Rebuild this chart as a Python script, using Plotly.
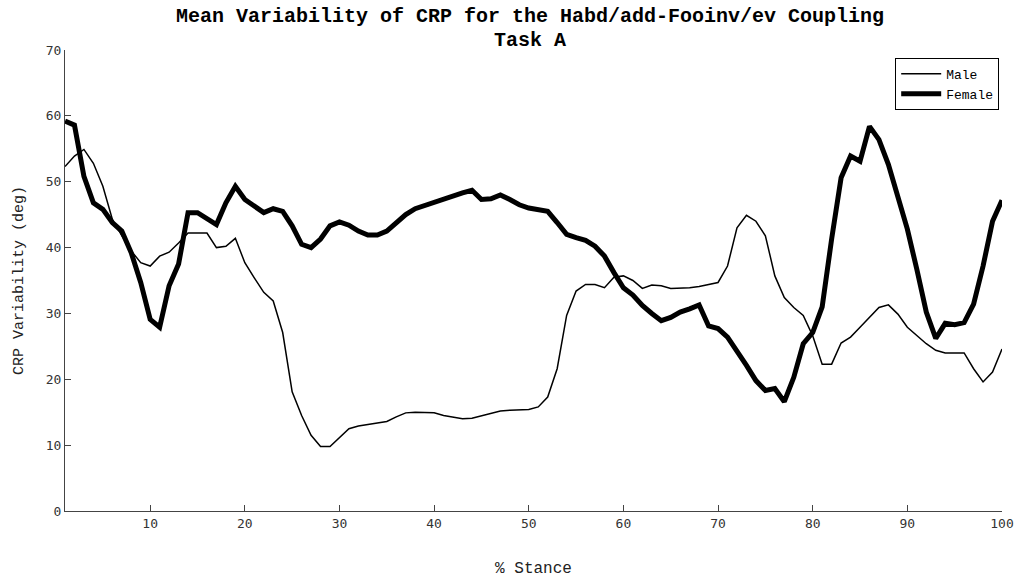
import plotly.graph_objects as go

# % of stance phase (1..100)
stance = list(range(1, 101))

# Mean CRP variability (deg), male group
male = [
    52.3, 53.9, 54.9, 52.8, 49.3, 44.3, 41.8, 39.5, 37.7, 37.2,
    38.7, 39.3, 40.7, 42.2, 42.2, 42.2, 40.0, 40.2, 41.4, 37.7,
    35.4, 33.2, 31.9, 27.1, 18.1, 14.5, 11.5, 9.8, 9.8, 11.2,
    12.5, 12.9, 13.1, 13.3, 13.6, 14.3, 14.9, 15.0, 15.0, 14.9,
    14.5, 14.2, 14.0, 14.1, 14.5, 14.9, 15.2, 15.3, 15.4, 15.4,
    15.8, 17.3, 21.6, 29.7, 33.4, 34.4, 34.4, 33.9, 35.5, 35.7,
    35.0, 33.8, 34.3, 34.2, 33.8, 33.8, 33.9, 34.1, 34.4, 34.7,
    37.2, 43.0, 44.9, 44.0, 41.8, 35.7, 32.4, 30.9, 29.7, 26.6,
    22.3, 22.3, 25.5, 26.4, 27.9, 29.4, 30.9, 31.3, 29.9, 27.9,
    26.6, 25.4, 24.4, 24.0, 24.0, 24.0, 21.6, 19.6, 21.1, 24.6,
]

# Mean CRP variability (deg), female group
female = [
    59.2, 58.6, 50.8, 46.8, 45.8, 43.8, 42.5, 39.2, 34.7, 29.1,
    27.9, 34.2, 37.5, 45.3, 45.3, 44.3, 43.5, 46.8, 49.3, 47.3,
    46.4, 45.3, 45.9, 45.5, 43.3, 40.5, 40.0, 41.3, 43.3, 43.9,
    43.4, 42.5, 41.9, 41.9, 42.5, 43.8, 45.0, 45.9, 46.4, 46.9,
    47.3, 47.8, 48.3, 48.7, 47.3, 47.4, 48.0, 47.3, 46.5, 46.0,
    45.8, 45.5, 43.8, 42.0, 41.5, 41.1, 40.2, 38.7, 36.2, 33.9,
    32.8, 31.2, 30.0, 28.9, 29.4, 30.2, 30.7, 31.3, 28.1, 27.7,
    26.4, 24.4, 22.1, 19.8, 18.3, 18.6, 16.6, 20.3, 25.4, 27.1,
    31.0, 41.3, 50.6, 53.9, 53.1, 58.4, 56.4, 52.6, 47.8, 42.8,
    36.7, 30.2, 26.2, 28.5, 28.3, 28.6, 31.4, 37.2, 44.0, 47.2,
]

x_ticks = [10, 20, 30, 40, 50, 60, 70, 80, 90, 100]
y_ticks = [0, 10, 20, 30, 40, 50, 60, 70]

title_lines = [
    "Mean Variability of CRP for the Habd/add-Fooinv/ev Coupling",
    "Task A",
]

mono = "Liberation Mono"

fig = go.Figure()
fig.add_trace(go.Scatter(
    x=stance, y=male, name="Male", mode="lines",
    line=dict(color="black", width=1.5),
))
fig.add_trace(go.Scatter(
    x=stance, y=female, name="Female", mode="lines",
    line=dict(color="black", width=5),
))

axis_common = dict(
    showgrid=False, zeroline=False,
    showline=True, linecolor="#444", linewidth=1,
    ticks="inside", ticklen=6, tickcolor="#444", tickwidth=1,
    tickfont=dict(family="DejaVu Sans Mono", size=13, color="#333"),
    mirror=False,
)

# two-line bold title placed above the axes
for text, ypos in zip(title_lines, [1.073, 1.021]):
    fig.add_annotation(
        text=f"<b>{text}</b>", xref="paper", yref="paper",
        x=0.496, y=ypos, xanchor="center", yanchor="middle",
        showarrow=False, font=dict(family=mono, size=20, color="black"),
    )

fig.update_layout(
    width=1026, height=586,
    margin=dict(l=65, r=23, t=50, b=73),
    paper_bgcolor="white", plot_bgcolor="white",
    xaxis=dict(
        range=[1, 100], tickvals=x_ticks,
        title=dict(text="% Stance", font=dict(family=mono, size=16, color="#222"), standoff=32),
        **axis_common,
    ),
    yaxis=dict(
        range=[0, 70], tickvals=y_ticks,
        title=dict(text="CRP Variability (deg)", font=dict(family=mono, size=15, color="#222"), standoff=18),
        **axis_common,
    ),
    legend=dict(
        x=0.997, y=0.983, xanchor="right", yanchor="top",
        bgcolor="white", bordercolor="black", borderwidth=1,
        font=dict(family=mono, size=13, color="black"),
        tracegroupgap=0, itemwidth=40,
    ),
    showlegend=True,
)

fig.write_html("out.html")
